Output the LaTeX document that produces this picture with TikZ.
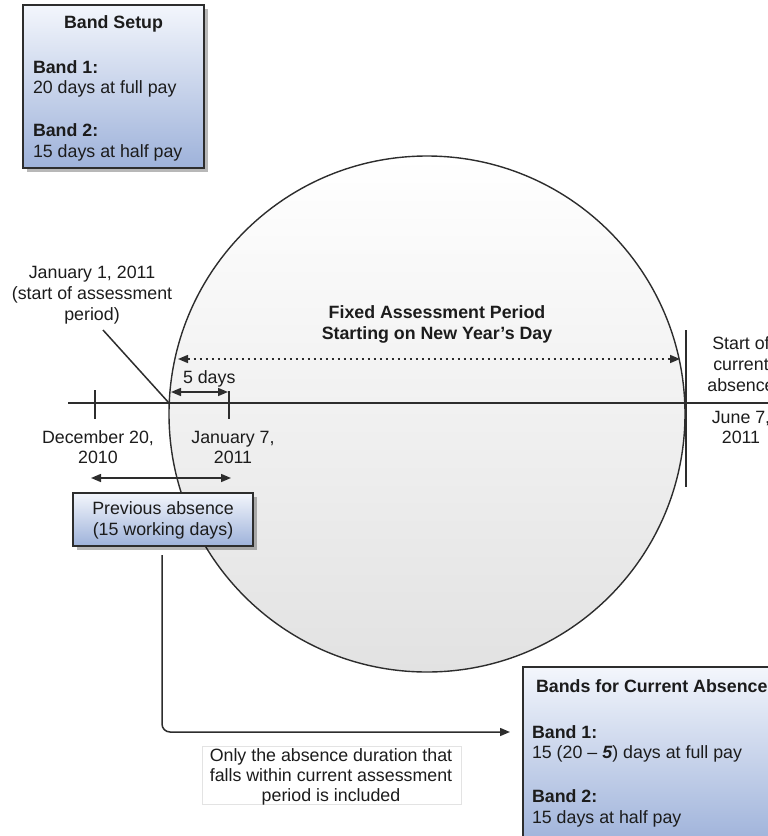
\documentclass[tikz,border=0pt]{standalone}
\usepackage{fontspec}
\setmainfont{Liberation Sans}
\usetikzlibrary{arrows.meta,shadows}
\definecolor{ink}{RGB}{28,28,28}
\definecolor{edge}{RGB}{45,45,45}
\definecolor{btop}{RGB}{243,246,252}
\definecolor{bbot}{RGB}{158,178,218}
\definecolor{cbot}{RGB}{226,226,226}
\newcommand\fsz{\fontsize{17.8}{21}\selectfont}
\begin{document}
\begin{tikzpicture}[x=1pt,y=-1pt,
  every node/.style={inner sep=0pt, outer sep=0pt, text=ink, font=\fsz},
  bluebox/.style={rectangle, draw=edge, line width=1.4pt, top color=btop, bottom color=bbot,
    drop shadow={shadow xshift=3.5pt, shadow yshift=-3.5pt, opacity=0.28, fill=black}},
  lbl/.style={anchor=base},
  lblw/.style={anchor=base west},
  line/.style={draw=edge, line width=1.5pt},
  tip/.style={-{Triangle[length=10pt,width=8pt]}},
  dtip/.style={{Triangle[length=10pt,width=8pt]}-{Triangle[length=10pt,width=8pt]}}
]
\useasboundingbox (0,0) rectangle (768,836);
\clip (0,0) rectangle (768,836);

% assessment period circle
\node[circle, minimum size=516pt, draw=edge, line width=1.4pt, top color=white, bottom color=cbot] (fap) at (427,414) {};
\node[lbl, font=\fsz\bfseries] (fapA) at (437,318) {Fixed Assessment Period};
\node[lbl, font=\fsz\bfseries] (fapB) at (437,339) {Starting on New Year’s Day};

% boxes
\node[bluebox, anchor=north west, minimum width=181pt, minimum height=163pt] (setup) at (23,5) {};
\node[lbl, font=\fsz\bfseries] (setupT) at (113.5,28) {Band Setup};
\node[lblw, font=\fsz\bfseries] (s1) at (33,73) {Band 1:};
\node[lblw] (s1t) at (33,93) {20 days at full pay};
\node[lblw, font=\fsz\bfseries] (s2) at (33,136) {Band 2:};
\node[lblw] (s2t) at (33,157) {15 days at half pay};

\node[bluebox, anchor=north west, minimum width=180pt, minimum height=53pt] (prev) at (73,493) {};
\node[lbl] (prevA) at (163,514) {Previous absence};
\node[lbl] (prevB) at (163,535) {(15 working days)};

\node[bluebox, anchor=north west, minimum width=270pt, minimum height=178pt] (cur) at (523,667) {};
\node[lblw, font=\fsz\bfseries] (curT) at (536,692) {Bands for Current Absence};
\node[lblw, font=\fsz\bfseries] (c1) at (532,738) {Band 1:};
\node[lblw] (c1t) at (532,758) {15 (20 – \textbf{\textit{5}}) days at full pay};
\node[lblw, font=\fsz\bfseries] (c2) at (532,802) {Band 2:};
\node[lblw] (c2t) at (532,823) {15 days at half pay};

\node[draw=gray!22, line width=0.8pt, fill=white, anchor=north west, minimum width=259pt, minimum height=58pt] (note) at (202,746) {};
\node[lbl] (noteA) at (331,761) {Only the absence duration that};
\node[lbl] (noteB) at (331,781) {falls within current assessment};
\node[lbl] (noteC) at (331,801) {period is included};

% timeline
\coordinate (tlA) at (68,403);
\coordinate (tlB) at (790,403);
\draw[line] (tlA) -- (tlB);
\coordinate (dec20a) at (95,390); \coordinate (dec20b) at (95,419);
\draw[line] (dec20a) -- (dec20b);
\coordinate (jan7a) at (229,391); \coordinate (jan7b) at (229,419);
\draw[line] (jan7a) -- (jan7b);
\coordinate (junA) at (686,330); \coordinate (junB) at (686,487);
\draw[line] (junA) -- (junB);

% arrows
\coordinate (fdA) at (171,392); \coordinate (fdB) at (228,392);
\draw[line, dtip] (fdA) -- (fdB);
\node[lblw] (fdays) at (183,383) {5 days};
\coordinate (dotA) at (178,359); \coordinate (dotB) at (680,359);
\draw[line, dtip, dash pattern=on 2pt off 4pt] (dotA) -- (dotB);
\coordinate (paA) at (91,478); \coordinate (paB) at (231,478);
\draw[line, dtip] (paA) -- (paB);

% January 1 label and pointer
\node[lbl] (jan1A) at (92,278) {January 1, 2011};
\node[lbl] (jan1B) at (92,299) {(start of assessment};
\node[lbl] (jan1C) at (92,320) {period)};
\coordinate (ptr) at (103,330);
\coordinate (jan1) at (169,403);
\draw[line] (ptr) -- (jan1);

% date labels
\node[lbl] (decA) at (98,443) {December 20,};
\node[lbl] (decB) at (98,463) {2010};
\node[lbl] (janA) at (233,443) {January 7,};
\node[lbl] (janB) at (233,463) {2011};
\node[lbl] (startA) at (741,349) {Start of};
\node[lbl] (startB) at (741,370) {current};
\node[lbl] (startC) at (741,391) {absence};
\node[lbl] (juneA) at (741,423) {June 7,};
\node[lbl] (juneB) at (741,443) {2011};

% connector to current bands
\coordinate (cEnd) at (510,732);
\draw[line, tip, rounded corners=8pt] ([xshift=-1pt,yshift=-9pt]prev.south) |- (cEnd);
\end{tikzpicture}
\end{document}
